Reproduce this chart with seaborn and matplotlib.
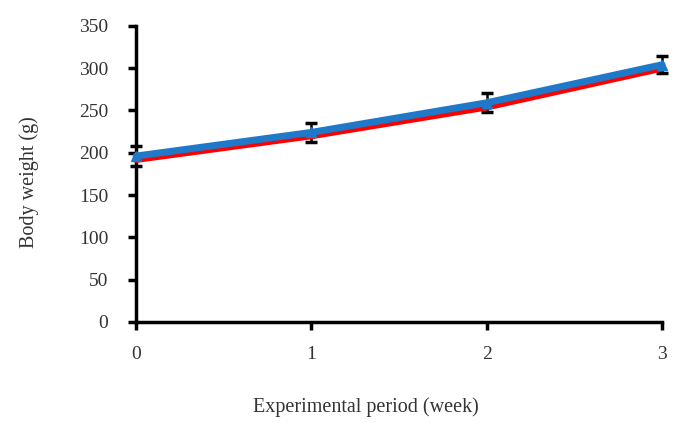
import matplotlib.pyplot as plt
import seaborn as sns
import pandas as pd

weeks = [0, 1, 2, 3]
red_weight = [192, 220, 254, 300]
blue_weight = [196, 224, 259, 304]
blue_err = [12, 11, 11, 10]

sns.set_style("white")
plt.rcParams['font.family'] = ['Liberation Serif', 'DejaVu Serif']

df = pd.DataFrame({
    "week": weeks * 2,
    "weight": red_weight + blue_weight,
    "group": ["red"] * 4 + ["blue"] * 4,
})

fig = plt.figure(figsize=(6.77, 4.23), dpi=100)
ax = fig.add_axes([0.201, 0.239, 0.777, 0.70])

ax.errorbar(weeks, blue_weight, yerr=blue_err, fmt="none", ecolor="black",
            elinewidth=1.8, capsize=4, capthick=2.5, zorder=1)
sns.lineplot(data=df, x="week", y="weight", hue="group",
             palette={"red": "#ff0000", "blue": "#1f78c8"},
             linewidth=5, legend=False, ax=ax, zorder=2)
ax.plot(weeks, blue_weight, marker="^", color="#1f78c8", markersize=7,
        linestyle="none", zorder=3)

ax.set_xlim(0, 3)
ax.set_ylim(0, 350)
ax.set_xticks(weeks)
ax.set_yticks(range(0, 351, 50))
for s in ["top", "right"]:
    ax.spines[s].set_visible(False)
for s in ["left", "bottom"]:
    ax.spines[s].set_linewidth(2.5)
    ax.spines[s].set_color("black")
    ax.spines[s].set_zorder(0)
ax.tick_params(axis="y", left=True, direction="out", length=6, width=2.5,
               colors="black", labelcolor="#333333", labelsize=14, pad=14)
ax.tick_params(axis="x", bottom=True, direction="out", length=6, width=2.5,
               colors="black", labelcolor="#333333", labelsize=14, pad=11)
ax.set_xlabel("Experimental period (week)", fontsize=14.5, color="#333333")
ax.set_ylabel("Body weight (g)", fontsize=14.5, color="#333333")
ax.xaxis.set_label_coords(0.437, -0.255)
ax.yaxis.set_label_coords(-0.184, 0.473)
for line in ax.lines:
    line.set_clip_on(False)
for c in ax.collections:
    c.set_clip_on(False)

fig.savefig("out.png", dpi=100)
